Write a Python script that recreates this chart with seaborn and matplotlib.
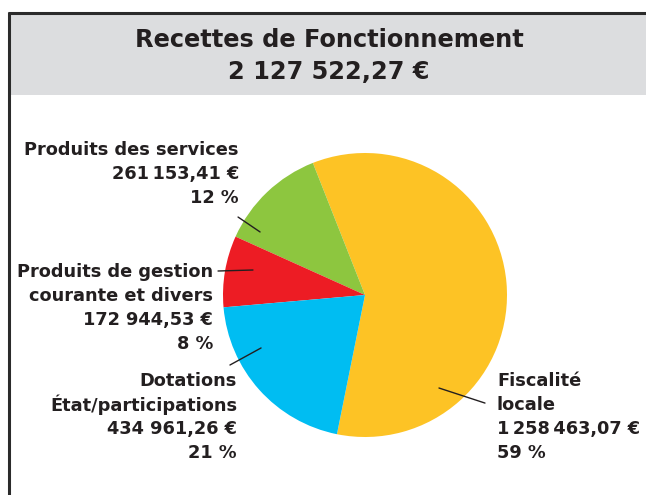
import matplotlib.pyplot as plt
import numpy as np
import seaborn as sns
from matplotlib.patches import Rectangle

# données
categories = [["Fiscalité", "locale"], ["Produits des services"],
              ["Produits de gestion", "courante et divers"], ["Dotations", "État/participations"]]
montants = [1258463.07, 261153.41, 172944.53, 434961.26]
montants_txt = ["1\u202f258\u202f463,07 €", "261\u202f153,41 €", "172 944,53 €", "434 961,26 €"]
pourcents = ["59 %", "12 %", "8 %", "21 %"]
titre = "Recettes de Fonctionnement"
total_txt = "2 127 522,27 €"

couleurs = ["#FDC325", "#8DC63F", "#ED1C24", "#00BDF2"]
texte_col = "#231F20"

sns.set_theme(style="white")
plt.rcParams["font.family"] = ["DejaVu Sans"]

W, H = 646, 495
fig = plt.figure(figsize=(W / 100, H / 100), dpi=100)

# calque de fond en pixels
bg = fig.add_axes([0, 0, 1, 1])
bg.set_xlim(0, W)
bg.set_ylim(H, 0)
bg.axis("off")
bg.add_patch(Rectangle((9, 13), W, 82, color="#DCDDDF", lw=0))
bg.plot([9, 9], [12, H], color="#2b2b2b", lw=2.2, solid_capstyle="butt")
bg.plot([8, W], [12.5, 12.5], color="#2b2b2b", lw=2.2, solid_capstyle="butt")
bg.text(329, 40, titre, ha="center", va="center", fontsize=17.3, fontweight="bold", color=texte_col)
bg.text(329, 72, total_txt, ha="center", va="center", fontsize=17.3, fontweight="bold", color=texte_col)

# camembert
cx, cy, r = 365, 295, 142
ax = fig.add_axes([(cx - r) / W, (H - cy - r) / H, 2 * r / W, 2 * r / H], zorder=0)
ax.pie(montants, colors=couleurs, startangle=258.6, counterclock=True,
       wedgeprops=dict(linewidth=0))
ax.set_xlim(-1, 1)
ax.set_ylim(-1, 1)
ax.set_aspect("equal")

# étiquettes : (x, y première ligne, alignement) en pixels, traits en coordonnées du camembert
etiquettes = [
    ((497, 381), "left", (0.845, -0.761), (0.521, -0.655)),
    ((239, 150), "right", (-0.894, 0.549), (-0.739, 0.444)),
    ((213, 272), "right", (-1.035, 0.169), (-0.789, 0.176)),
    ((237, 381), "right", (-0.951, -0.493), (-0.732, -0.373)),
]
for i, (pos, ha, p0, p1) in enumerate(etiquettes):
    lignes = categories[i] + [montants_txt[i], pourcents[i]]
    for k, ligne in enumerate(lignes):
        bg.text(pos[0], pos[1] + 24 * k, ligne, ha=ha, va="center", fontsize=12.8,
                fontweight="bold", color=texte_col)
    ax.plot([p0[0], p1[0]], [p0[1], p1[1]], color="#231F20", lw=1, clip_on=False)

fig.savefig("out.png", dpi=100)
